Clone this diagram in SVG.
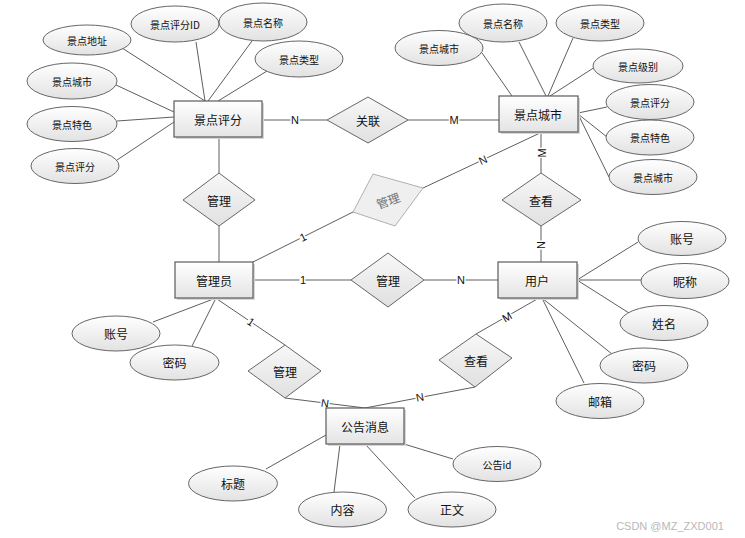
<svg xmlns="http://www.w3.org/2000/svg" width="745" height="538" viewBox="0 0 745 538">
<defs>
<linearGradient id="gEnt" x1="0" y1="0" x2="0" y2="1"><stop offset="0" stop-color="#ffffff"/><stop offset="1" stop-color="#e4e4e4"/></linearGradient>
<linearGradient id="gAttr" x1="0" y1="0" x2="0" y2="1"><stop offset="0" stop-color="#ffffff"/><stop offset="1" stop-color="#e2e2e2"/></linearGradient>
<linearGradient id="gRel" x1="0" y1="0" x2="0" y2="1"><stop offset="0" stop-color="#f8f8f8"/><stop offset="1" stop-color="#e0e0e0"/></linearGradient>
<style>
.ent{fill:url(#gEnt);stroke:#5a5a5a;stroke-width:1.2}
.sh{fill:#d6d6d6}
.attr{fill:url(#gAttr);stroke:#666;stroke-width:1}
.rel{fill:url(#gRel);stroke:#666;stroke-width:1}
.relg{fill:#efefef;stroke:#b0b0b0;stroke-width:1}
text{font-family:"Noto Sans CJK SC","Liberation Sans",sans-serif;fill:#111;text-anchor:middle;dominant-baseline:central}
.t12{font-size:12px}
.t10{font-size:10px}
.lab{font-family:"Liberation Sans",sans-serif;font-size:11px;stroke:#fff;stroke-width:3;paint-order:stroke}
.ln{stroke:#5e5e5e;stroke-width:1;fill:none}
</style>
</defs>
<rect width="745" height="538" fill="#ffffff"/>

<g id="connectors">
<line class="ln" x1="122" y1="48" x2="205" y2="101"/>
<line class="ln" x1="196" y1="42" x2="205" y2="101"/>
<line class="ln" x1="252" y1="41" x2="208" y2="101"/>
<line class="ln" x1="267" y1="71" x2="218" y2="101"/>
<line class="ln" x1="116" y1="85" x2="174" y2="112"/>
<line class="ln" x1="117" y1="121" x2="174" y2="117"/>
<line class="ln" x1="117" y1="160" x2="174" y2="122"/>
<line class="ln" x1="482" y1="53" x2="512" y2="96"/>
<line class="ln" x1="519" y1="42" x2="546" y2="96"/>
<line class="ln" x1="573" y1="38" x2="548" y2="96"/>
<line class="ln" x1="595" y1="67" x2="550" y2="96"/>
<line class="ln" x1="607" y1="107" x2="578" y2="113"/>
<line class="ln" x1="607" y1="137" x2="578" y2="114"/>
<line class="ln" x1="609" y1="177" x2="578" y2="114"/>
<line class="ln" x1="262" y1="120" x2="327" y2="120"/>
<line class="ln" x1="408" y1="120" x2="499" y2="120"/>
<line class="ln" x1="219" y1="137" x2="219" y2="173"/>
<line class="ln" x1="219" y1="226" x2="219" y2="262"/>
<line class="ln" x1="541" y1="132" x2="541" y2="173"/>
<line class="ln" x1="541" y1="226" x2="541" y2="262"/>
<line class="ln" x1="540" y1="133" x2="423" y2="188"/>
<line class="ln" x1="253" y1="262" x2="353" y2="212"/>
<line class="ln" x1="253" y1="280" x2="351" y2="280"/>
<line class="ln" x1="424" y1="280" x2="498" y2="280"/>
<line class="ln" x1="216" y1="298" x2="153" y2="322"/>
<line class="ln" x1="216" y1="298" x2="192" y2="346"/>
<line class="ln" x1="217" y1="299" x2="285" y2="345"/>
<line class="ln" x1="285" y1="398" x2="365" y2="408"/>
<line class="ln" x1="577" y1="280" x2="638" y2="242"/>
<line class="ln" x1="577" y1="280" x2="641" y2="280"/>
<line class="ln" x1="577" y1="280" x2="629" y2="313"/>
<line class="ln" x1="542" y1="298" x2="612" y2="354"/>
<line class="ln" x1="542" y1="298" x2="584" y2="383"/>
<line class="ln" x1="539" y1="298" x2="476" y2="334"/>
<line class="ln" x1="475" y1="387" x2="365" y2="408"/>
<line class="ln" x1="266" y1="469" x2="326" y2="435"/>
<line class="ln" x1="334" y1="492" x2="340" y2="444"/>
<line class="ln" x1="415" y1="498" x2="365" y2="444"/>
<line class="ln" x1="453" y1="459" x2="404" y2="444"/>
<text class="lab" x="295" y="120">N</text>
<text class="lab" x="454" y="120">M</text>
<text class="lab" x="542" y="153" transform="rotate(-90 542 153)">M</text>
<text class="lab" x="483" y="160" transform="rotate(-25 483 160)">N</text>
<text class="lab" x="303" y="237" transform="rotate(-26 303 237)">1</text>
<text class="lab" x="303" y="280">1</text>
<text class="lab" x="461" y="280">N</text>
<text class="lab" x="541" y="245" transform="rotate(-90 541 245)">N</text>
<text class="lab" x="251" y="322" transform="rotate(34 251 322)">1</text>
<text class="lab" x="507" y="317" transform="rotate(-30 507 317)">M</text>
<text class="lab" x="325" y="403" transform="rotate(8 325 403)">N</text>
<text class="lab" x="420" y="397" transform="rotate(-11 420 397)">N</text>
</g>

<g id="e-jdpf"><rect class="sh" x="176" y="103" width="88" height="36"/><rect class="ent" x="174" y="101" width="88" height="36"/><text class="t12" x="218" y="119">景点评分</text></g>
<g id="e-jdcs"><rect class="sh" x="501" y="98" width="79" height="36"/><rect class="ent" x="499" y="96" width="79" height="36"/><text class="t12" x="538" y="114">景点城市</text></g>
<g id="e-admin"><rect class="sh" x="177" y="264" width="78" height="36"/><rect class="ent" x="175" y="262" width="78" height="36"/><text class="t12" x="214" y="280">管理员</text></g>
<g id="e-user"><rect class="sh" x="500" y="264" width="79" height="36"/><rect class="ent" x="498" y="262" width="79" height="36"/><text class="t12" x="537" y="280">用户</text></g>
<g id="e-notice"><rect class="sh" x="328" y="410" width="78" height="36"/><rect class="ent" x="326" y="408" width="78" height="36"/><text class="t12" x="365" y="426">公告消息</text></g>

<g id="r-guanlian"><polygon class="rel" points="327,120 368,97 408,120 368,143"/><text class="t12" x="368" y="120">关联</text></g>
<g id="r-manage1"><polygon class="rel" points="183,200 219,173 255,200 219,226"/><text class="t12" x="219" y="200">管理</text></g>
<g id="r-manage-gray"><polygon class="relg" points="353,212 373,174 423,188 395,226"/><text class="t12" x="388" y="200" transform="rotate(-20 388 200)" style="fill:#707070">管理</text></g>
<g id="r-view1"><polygon class="rel" points="502,200 541,173 581,200 541,226"/><text class="t12" x="541" y="200">查看</text></g>
<g id="r-manage2"><polygon class="rel" points="351,280 388,253 424,280 388,307"/><text class="t12" x="388" y="280">管理</text></g>
<g id="r-manage3"><polygon class="rel" points="248,371 285,345 321,371 285,398"/><text class="t12" x="285" y="371">管理</text></g>
<g id="r-view2"><polygon class="rel" points="439,360 476,334 512,358 475,387"/><text class="t12" x="476" y="360">查看</text></g>

<g id="a-dizhi"><ellipse class="attr" cx="87" cy="40" rx="44" ry="15"/><text class="t10" x="87" y="40">景点地址</text></g>
<g id="a-pfid"><ellipse class="attr" cx="175" cy="24" rx="44" ry="18"/><text class="t10" x="175" y="24">景点评分ID</text></g>
<g id="a-mc1"><ellipse class="attr" cx="263" cy="22" rx="44" ry="19"/><text class="t10" x="263" y="22">景点名称</text></g>
<g id="a-lx1"><ellipse class="attr" cx="299" cy="59" rx="44" ry="18"/><text class="t10" x="299" y="59">景点类型</text></g>
<g id="a-cs1"><ellipse class="attr" cx="72" cy="81" rx="45" ry="18"/><text class="t10" x="72" y="81">景点城市</text></g>
<g id="a-ts1"><ellipse class="attr" cx="72" cy="124" rx="45" ry="17.5"/><text class="t10" x="72" y="124">景点特色</text></g>
<g id="a-pf1"><ellipse class="attr" cx="75" cy="166" rx="44" ry="17.5"/><text class="t10" x="75" y="166">景点评分</text></g>

<g id="a-cs2"><ellipse class="attr" cx="439" cy="48" rx="44" ry="17.5"/><text class="t10" x="439" y="48">景点城市</text></g>
<g id="a-mc2"><ellipse class="attr" cx="503" cy="23" rx="44" ry="19"/><text class="t10" x="503" y="23">景点名称</text></g>
<g id="a-lx2"><ellipse class="attr" cx="600" cy="23" rx="44" ry="18"/><text class="t10" x="600" y="23">景点类型</text></g>
<g id="a-jb"><ellipse class="attr" cx="638" cy="66" rx="45" ry="17"/><text class="t10" x="638" y="66">景点级别</text></g>
<g id="a-pf2"><ellipse class="attr" cx="650" cy="102" rx="44" ry="17.5"/><text class="t10" x="650" y="102">景点评分</text></g>
<g id="a-ts2"><ellipse class="attr" cx="650" cy="137.5" rx="44" ry="17.5"/><text class="t10" x="650" y="137.5">景点特色</text></g>
<g id="a-cs3"><ellipse class="attr" cx="653" cy="177" rx="44" ry="17.5"/><text class="t10" x="653" y="177">景点城市</text></g>

<g id="a-admin-zh"><ellipse class="attr" cx="116" cy="333.5" rx="44" ry="17.5"/><text class="t12" x="116" y="333.5">账号</text></g>
<g id="a-admin-mm"><ellipse class="attr" cx="174.5" cy="362.5" rx="44.5" ry="17.5"/><text class="t12" x="174.5" y="362.5">密码</text></g>

<g id="a-user-zh"><ellipse class="attr" cx="682" cy="238.5" rx="44" ry="17"/><text class="t12" x="682" y="238.5">账号</text></g>
<g id="a-user-nc"><ellipse class="attr" cx="685" cy="281" rx="44" ry="17.5"/><text class="t12" x="685" y="281">昵称</text></g>
<g id="a-user-xm"><ellipse class="attr" cx="664" cy="323" rx="44" ry="17.5"/><text class="t12" x="664" y="323">姓名</text></g>
<g id="a-user-mm"><ellipse class="attr" cx="644" cy="365.5" rx="44" ry="17.5"/><text class="t12" x="644" y="365.5">密码</text></g>
<g id="a-user-yx"><ellipse class="attr" cx="600" cy="401" rx="44" ry="17.5"/><text class="t12" x="600" y="401">邮箱</text></g>

<g id="a-bt"><ellipse class="attr" cx="233" cy="483.5" rx="44.5" ry="17.5"/><text class="t12" x="233" y="483.5">标题</text></g>
<g id="a-nr"><ellipse class="attr" cx="342.5" cy="509.5" rx="44" ry="17.5"/><text class="t12" x="342.5" y="509.5">内容</text></g>
<g id="a-zw"><ellipse class="attr" cx="452" cy="509.5" rx="44" ry="17.5"/><text class="t12" x="452" y="509.5">正文</text></g>
<g id="a-ggid"><ellipse class="attr" cx="497" cy="464" rx="44" ry="17.5"/><text class="t10" x="497" y="464">公告id</text></g>

<text x="670" y="526" style="font-family:'Liberation Sans',sans-serif;font-size:11px;fill:#b8b8b8">CSDN @MZ_ZXD001</text>
</svg>
